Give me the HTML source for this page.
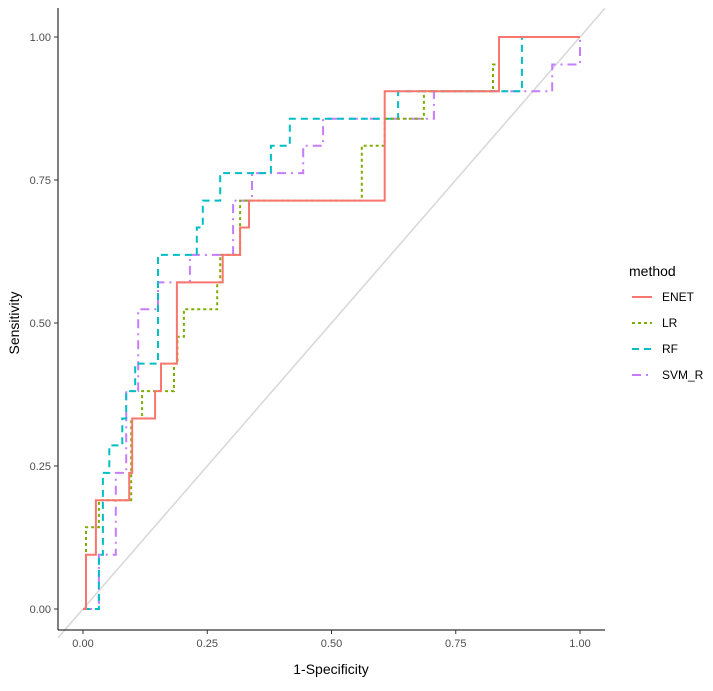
<!DOCTYPE html>
<html><head><meta charset="utf-8"><style>
body{margin:0;background:#fff;font-family:"Liberation Sans",Arial,sans-serif}
svg text{font-family:"Liberation Sans",Arial,sans-serif}
</style></head><body>
<svg id="chart" width="713" height="686" xmlns="http://www.w3.org/2000/svg">
<g id="plot"></g>
<g id="axes"></g>
<g id="legend"></g>
</svg>
<script>
const xTicks=[0,0.25,0.5,0.75,1];
const xTickLabels=["0.00","0.25","0.50","0.75","1.00"];
const yTicks=[0,0.25,0.5,0.75,1];
const yTickLabels=["0.00","0.25","0.50","0.75","1.00"];
const seriesNames=["ENET","LR","RF","SVM_R"];
const enetFpr=[0,0.006,0.006,0.026,0.026,0.093,0.093,0.099,0.099,0.145,0.145,0.157,0.157,0.189,0.189,0.281,0.281,0.316,0.316,0.334,0.334,0.607,0.607,0.837,0.837,1];
const enetTpr=[0,0,0.095,0.095,0.19,0.19,0.238,0.238,0.333,0.333,0.381,0.381,0.429,0.429,0.571,0.571,0.619,0.619,0.667,0.667,0.714,0.714,0.905,0.905,1,1];
const lrFpr=[0,0.006,0.006,0.032,0.032,0.097,0.097,0.119,0.119,0.183,0.183,0.19,0.19,0.203,0.203,0.27,0.27,0.276,0.276,0.316,0.316,0.561,0.561,0.607,0.607,0.686,0.686,0.825,0.825,0.837,0.837,1];
const lrTpr=[0,0,0.143,0.143,0.19,0.19,0.333,0.333,0.381,0.381,0.429,0.429,0.476,0.476,0.524,0.524,0.571,0.571,0.619,0.619,0.714,0.714,0.81,0.81,0.857,0.857,0.905,0.905,0.952,0.952,1,1];
const rfFpr=[0,0.032,0.032,0.04,0.04,0.053,0.053,0.079,0.079,0.087,0.087,0.105,0.105,0.151,0.151,0.229,0.229,0.241,0.241,0.276,0.276,0.378,0.378,0.416,0.416,0.634,0.634,0.883,0.883,1];
const rfTpr=[0,0,0.095,0.095,0.238,0.238,0.286,0.286,0.333,0.333,0.381,0.381,0.429,0.429,0.619,0.619,0.667,0.667,0.714,0.714,0.762,0.762,0.81,0.81,0.857,0.857,0.905,0.905,1,1];
const svmFpr=[0,0.032,0.032,0.066,0.066,0.087,0.087,0.111,0.111,0.151,0.151,0.215,0.215,0.302,0.302,0.34,0.34,0.443,0.443,0.483,0.483,0.706,0.706,0.944,0.944,1,1];
const svmTpr=[0,0,0.095,0.095,0.238,0.238,0.381,0.381,0.524,0.524,0.571,0.571,0.619,0.619,0.714,0.714,0.762,0.762,0.81,0.81,0.857,0.857,0.905,0.905,0.952,0.952,1];
const NS="http://www.w3.org/2000/svg";
const X0=83,X1=580,Y0=609,Y1=37;
function sx(v){return X0+(X1-X0)*v;}
function sy(v){return Y0-(Y0-Y1)*v;}
function mk(tag,attrs,parent){const e=document.createElementNS(NS,tag);for(const k in attrs)e.setAttribute(k,attrs[k]);parent.appendChild(e);return e;}
const plot=document.getElementById('plot'),axes=document.getElementById('axes'),legend=document.getElementById('legend');
const diag=mk('line',{x1:sx(-0.05),y1:sy(-0.05),x2:sx(1.05),y2:sy(1.05),stroke:'#d9d9d9','stroke-width':1.6},plot);


const colors=["#F8766D","#7CAE00","#00BFC4","#C77CFF"];
const dashes=["","3,3","7,5","9,5,2,5"];
const data=[[enetFpr,enetTpr],[lrFpr,lrTpr],[rfFpr,rfTpr],[svmFpr,svmTpr]];
const order=[3,2,1,0];
order.forEach(i=>{
  const [f,t]=data[i];
  const pts=f.map((v,j)=>sx(v).toFixed(1)+","+sy(t[j]).toFixed(1)).join(" ");
  const p=mk('polyline',{points:pts,fill:'none',stroke:colors[i],'stroke-width':2,'stroke-dasharray':dashes[i]},plot);
  
  
});
const yl=mk('line',{x1:58,y1:8,x2:58,y2:630,stroke:'#000','stroke-width':1},axes);


const xl=mk('line',{x1:58,y1:630,x2:605,y2:630,stroke:'#000','stroke-width':1},axes);


xTicks.forEach((v,i)=>{
  mk('line',{x1:sx(v),y1:630,x2:sx(v),y2:634,stroke:'#333'},axes);
  const t=mk('text',{x:sx(v),y:647,'text-anchor':'middle','font-size':11,fill:'#4d4d4d'},axes);
  t.textContent=xTickLabels[i];
  
  
});
yTicks.forEach((v,i)=>{
  mk('line',{x1:54,y1:sy(v),x2:58,y2:sy(v),stroke:'#333'},axes);
  const t=mk('text',{x:51,y:sy(v)+4,'text-anchor':'end','font-size':11,fill:'#4d4d4d'},axes);
  t.textContent=yTickLabels[i];
  
  
});
const xt=mk('text',{x:331,y:674,'text-anchor':'middle','font-size':14,fill:'#000'},axes);
xt.textContent='1-Specificity';


const yt=mk('text',{x:19,y:323,'text-anchor':'middle','font-size':14,fill:'#000',transform:'rotate(-90 19 323)'},axes);
yt.textContent='Sensitivity';


const lt=mk('text',{x:629,y:276,'font-size':14,fill:'#000'},legend);
lt.textContent='method';


const ly=[297,323,349,375];
seriesNames.forEach((n,i)=>{
  const g=mk('g',{},legend);
  
  
  mk('line',{x1:632,y1:ly[i],x2:652,y2:ly[i],stroke:colors[i],'stroke-width':2,'stroke-dasharray':dashes[i]},g);
  const t=mk('text',{x:662,y:ly[i]+4,'font-size':12,fill:'#000'},g);
  t.textContent=n;
});
</script>
</body></html>
